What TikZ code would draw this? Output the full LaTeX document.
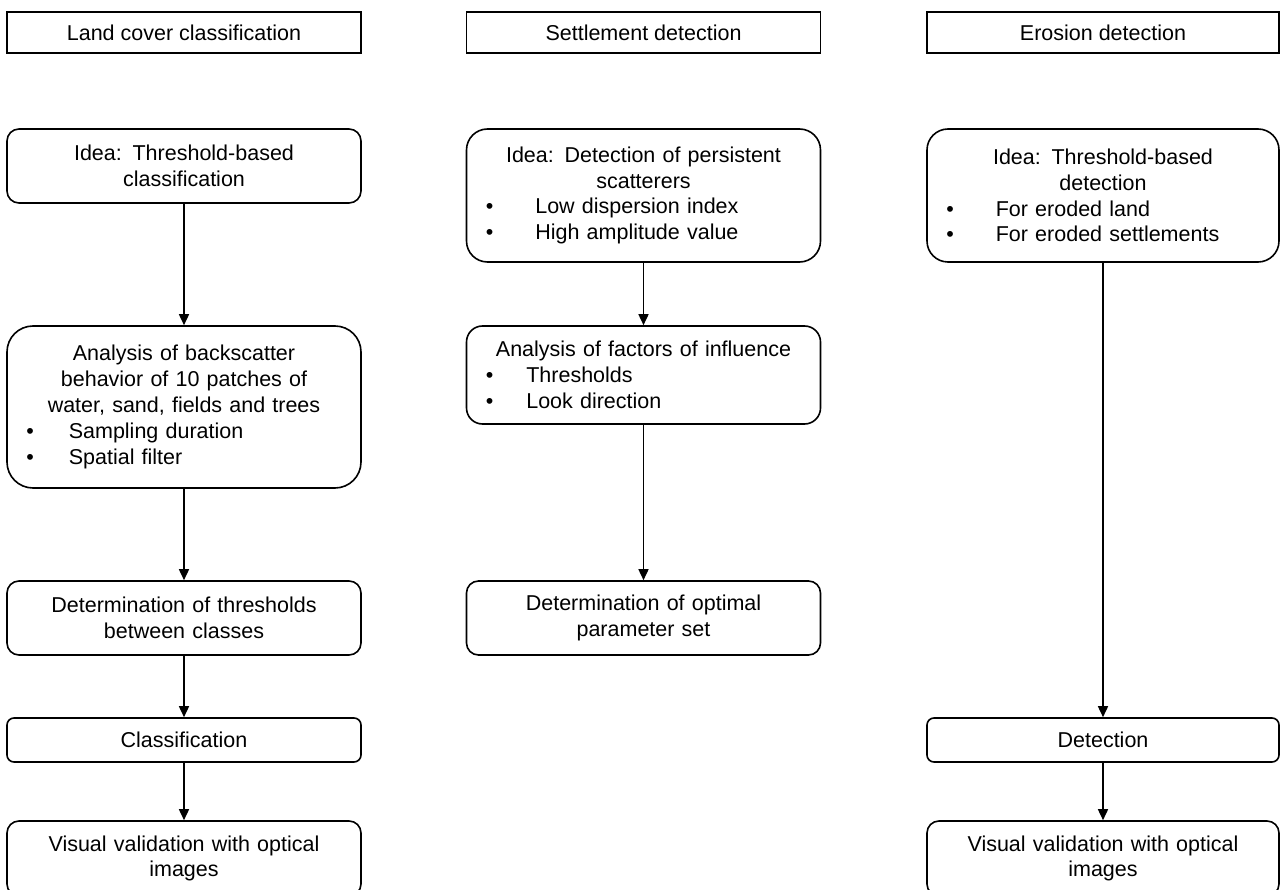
\documentclass[tikz,border=0pt]{standalone}
\usepackage{fontspec}
\setmainfont{Liberation Sans}
\usetikzlibrary{arrows.meta}
\pgfdeclarelayer{edgelayer}
\pgfdeclarelayer{nodelayer}
\pgfsetlayers{edgelayer,nodelayer,main}
\tikzstyle{header}=[rectangle,draw=black,line width=1.6pt,minimum width=354pt,minimum height=41pt,inner sep=0pt]
\tikzstyle{stage}=[rectangle,rounded corners=12pt,draw=black,fill=white,line width=1.6pt,text width=340pt,inner xsep=7pt,inner ysep=0pt,align=center]
\tikzstyle{flow}=[-{Triangle[length=11pt,width=10pt]},draw=black,line width=1.6pt]
\newcommand{\pbullet}[2][42pt]{\\\hspace*{12.3pt}\textbullet\hspace*{#1}#2\hspace*{\fill}\mbox{}}

\begin{document}
\begin{tikzpicture}[x=1pt,y=-1pt,font=\fontsize{21.5}{25.8}\selectfont]
	\useasboundingbox (0,0) rectangle (1280,890);
	\begin{pgfonlayer}{nodelayer}
		\node [style=header] (0) at (184, 32.5) {Land cover classification};
		\node [style=header] (1) at (643.5, 32.5) {Settlement detection};
		\node [style=header, minimum width=352pt] (2) at (1103, 32.5) {Erosion detection};
		\node [style=stage, minimum height=74pt] (3) at (184, 166) {Idea: Threshold-based\\classification};
		\node [style=stage, minimum height=162pt, rounded corners=26pt] (4) at (184, 407) {Analysis of backscatter\\behavior of 10 patches of\\water, sand, fields and trees\pbullet[35pt]{Sampling duration}\pbullet[35pt]{Spatial filter}};
		\node [style=stage, minimum height=74pt] (5) at (184, 618) {Determination of thresholds\\between classes};
		\node [style=stage, minimum height=44pt, rounded corners=7pt] (6) at (184, 740) {Classification};
		\node [style=stage, minimum height=75pt] (7) at (184, 858.5) {Visual validation with optical\\images};
		\node [style=stage, minimum height=133pt, rounded corners=21pt] (8) at (643.5, 195.5) {Idea: Detection of persistent\\scatterers\pbullet{Low dispersion index}\pbullet{High amplitude value}};
		\node [style=stage, minimum height=98pt, rounded corners=16pt] (9) at (643.5, 375) {Analysis of factors of influence\pbullet[33pt]{Thresholds}\pbullet[33pt]{Look direction}};
		\node [style=stage, minimum height=74pt] (10) at (643.5, 618) {Determination of optimal\\parameter set};
		\node [style=stage, minimum height=133pt, rounded corners=21pt, text width=338pt] (11) at (1103, 195.5) {Idea: Threshold-based\\detection\pbullet{For eroded land}\pbullet{For eroded settlements}};
		\node [style=stage, minimum height=44pt, rounded corners=7pt, text width=338pt] (12) at (1103, 740) {Detection};
		\node [style=stage, minimum height=75pt, text width=338pt] (13) at (1103, 858.5) {Visual validation with optical\\images};
	\end{pgfonlayer}
	\begin{pgfonlayer}{edgelayer}
		\draw [style=flow] (3) to (4);
		\draw [style=flow] (4) to (5);
		\draw [style=flow] (5) to (6);
		\draw [style=flow] (6) to (7);
		\draw [style=flow] (8) to (9);
		\draw [style=flow] (9) to (10);
		\draw [style=flow] (11) to (12);
		\draw [style=flow] (12) to (13);
	\end{pgfonlayer}
\end{tikzpicture}
\end{document}
